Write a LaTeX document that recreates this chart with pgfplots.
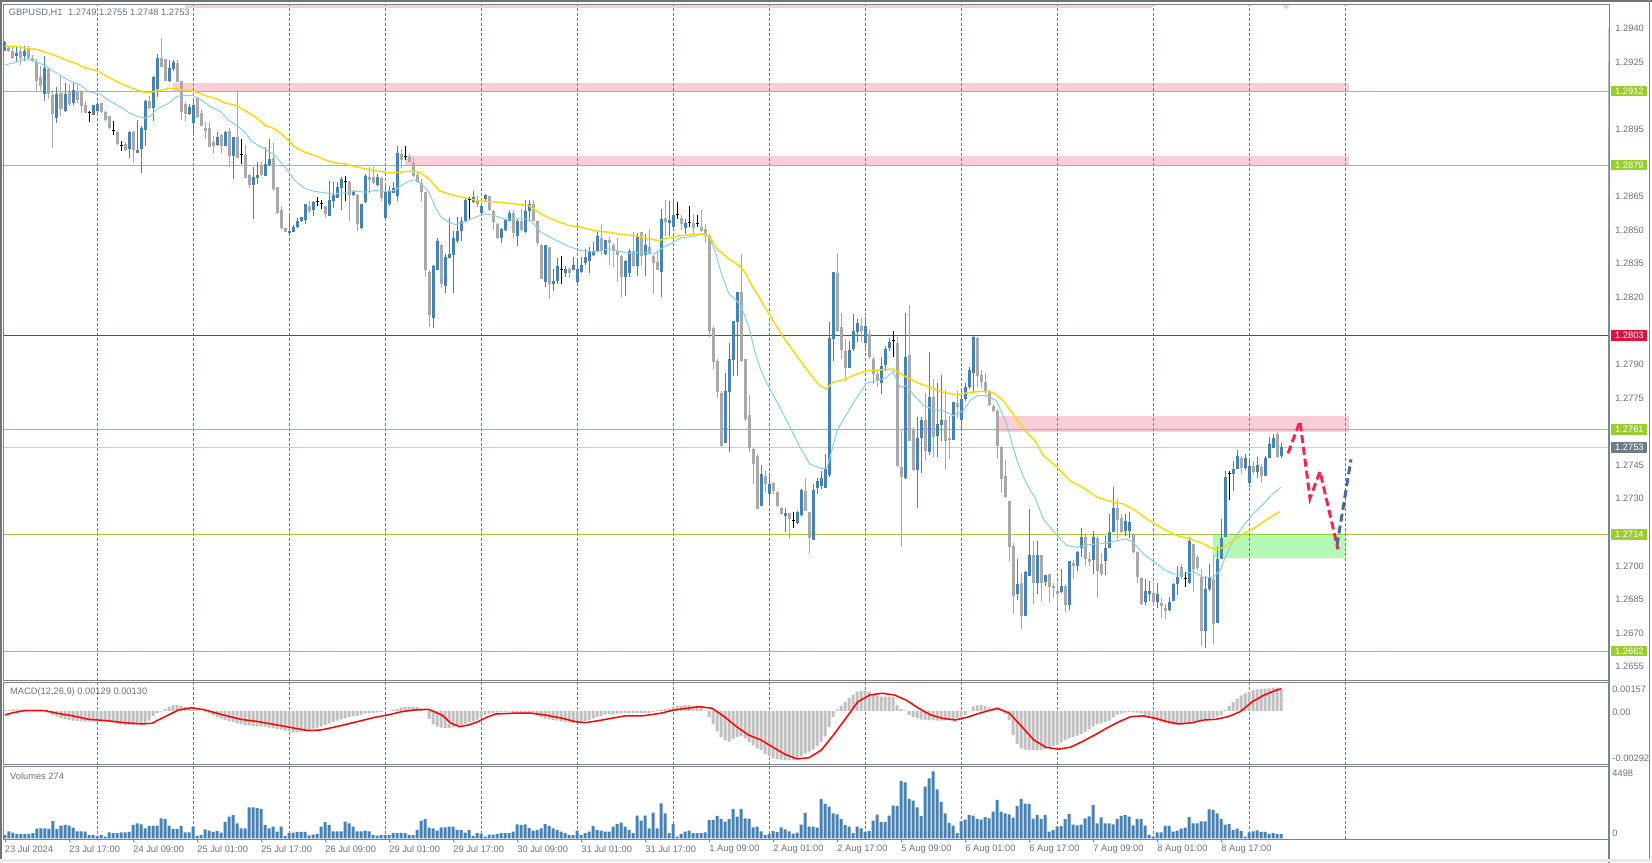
\documentclass[border=0pt]{standalone}
\usepackage{fontspec}
\setmainfont{Liberation Sans}
\usepackage{pgfplots}
\usepackage{pgfplotstable}
\pgfplotsset{compat=1.18}

\definecolor{bull}{RGB}{70,130,180}
\definecolor{bear}{RGB}{169,169,169}
\definecolor{lvlgreen}{RGB}{154,205,50}
\definecolor{lvlred}{RGB}{220,20,60}
\definecolor{pinkbox}{RGB}{250,205,215}
\definecolor{greenbox}{RGB}{180,250,180}
\definecolor{maFast}{RGB}{135,206,235}
\definecolor{maSlow}{RGB}{255,215,0}
\definecolor{sep}{RGB}{112,128,144}
\definecolor{frame}{RGB}{120,132,145}
\definecolor{labtxt}{RGB}{105,115,130}
\definecolor{zz}{RGB}{240,40,90}
\definecolor{zb}{RGB}{75,105,160}
\definecolor{histc}{RGB}{192,192,192}
\definecolor{curtag}{RGB}{110,123,139}
\definecolor{curline}{RGB}{205,205,205}
\newcommand\lab{\fontsize{4.65}{5.5}\selectfont}

\pgfplotstableread{
i o h l c v m
0 1.29298 1.29343 1.29297 1.29339 220 0.00006
1 1.29312 1.29321 1.29297 1.29300 470 0.00007
2 1.29301 1.29321 1.29264 1.29267 380 0.00009
3 1.29276 1.29321 1.29252 1.29288 290 0.00010
4 1.29301 1.29321 1.29237 1.29267 290 0.00010
5 1.29276 1.29321 1.29257 1.29301 290 0.00010
6 1.29312 1.29321 1.29264 1.29267 290 0.00010
7 1.29271 1.29282 1.29252 1.29255 340 0.00010
8 1.29252 1.29264 1.29118 1.29166 650 0.00009
9 1.29182 1.29234 1.29127 1.29145 670 0.00009
10 1.29106 1.29279 1.29075 1.29222 670 -0.00003
11 1.29219 1.29222 1.29085 1.29108 630 -0.00013
12 1.29105 1.29115 1.28865 1.29017 1160 -0.00023
13 1.29003 1.29137 1.28976 1.29108 630 -0.00033
14 1.29111 1.29190 1.29011 1.29043 850 -0.00041
15 1.29030 1.29157 1.29026 1.29108 900 -0.00049
16 1.29121 1.29152 1.29055 1.29066 850 -0.00053
17 1.29067 1.29160 1.29061 1.29127 720 -0.00056
18 1.29122 1.29157 1.29067 1.29082 470 -0.00059
19 1.29121 1.29127 1.29023 1.29055 470 -0.00061
20 1.29058 1.29078 1.29023 1.29026 450 -0.00063
21 1.29023 1.29033 1.28984 1.29023 220 -0.00063
22 1.29015 1.29061 1.29015 1.29058 220 -0.00063
23 1.29033 1.29073 1.29023 1.29061 160 -0.00063
24 1.29067 1.29070 1.29023 1.29029 220 -0.00063
25 1.29029 1.29032 1.28988 1.28993 110 -0.00064
26 1.29008 1.29011 1.28951 1.28954 400 -0.00066
27 1.28945 1.28987 1.28924 1.28945 340 -0.00069
28 1.28939 1.28942 1.28877 1.28883 340 -0.00074
29 1.28877 1.28899 1.28854 1.28877 400 -0.00078
30 1.28887 1.28895 1.28853 1.28857 400 -0.00081
31 1.28862 1.28942 1.28824 1.28939 430 -0.00084
32 1.28939 1.28942 1.28802 1.28857 900 -0.00084
33 1.28842 1.28993 1.28842 1.28859 1010 -0.00084
34 1.28862 1.28966 1.28753 1.28957 940 -0.00079
35 1.28948 1.29079 1.28874 1.29078 670 -0.00074
36 1.29078 1.29100 1.29040 1.29043 830 -0.00056
37 1.29043 1.29190 1.28988 1.29182 830 -0.00029
38 1.29130 1.29286 1.29093 1.29271 850 -0.00013
39 1.29271 1.29359 1.29227 1.29227 1340 -0.00004
40 1.29264 1.29266 1.29164 1.29164 1300 0.00012
41 1.29164 1.29261 1.29164 1.29222 850 0.00025
42 1.29219 1.29261 1.29212 1.29249 630 0.00034
43 1.29249 1.29257 1.29163 1.29164 630 0.00034
44 1.29167 1.29167 1.28991 1.29026 830 0.00031
45 1.29063 1.29073 1.28988 1.29018 400 0.00023
46 1.29018 1.29063 1.29014 1.29048 400 0.00016
47 1.28976 1.29088 1.28933 1.29060 780 0.00012
48 1.29088 1.29093 1.28999 1.29003 160 0.00007
49 1.29023 1.29040 1.28962 1.28963 220 0.00001
50 1.28959 1.28981 1.28906 1.28944 600 -0.00004
51 1.28959 1.28981 1.28872 1.28874 520 -0.00015
52 1.28894 1.28921 1.28844 1.28877 430 -0.00026
53 1.28880 1.28939 1.28877 1.28917 490 -0.00035
54 1.28924 1.28929 1.28844 1.28877 380 -0.00045
55 1.28874 1.28944 1.28874 1.28939 1100 -0.00054
56 1.28942 1.28954 1.28780 1.28829 1460 -0.00060
57 1.28829 1.28917 1.28728 1.28917 1550 -0.00066
58 1.28917 1.29127 1.28824 1.28824 1010 -0.00073
59 1.28839 1.28906 1.28795 1.28839 670 -0.00076
60 1.28835 1.28883 1.28734 1.28734 670 -0.00082
61 1.28747 1.28750 1.28687 1.28702 2080 -0.00086
62 1.28702 1.28780 1.28552 1.28738 2080 -0.00088
63 1.28735 1.28805 1.28705 1.28747 2020 -0.00091
64 1.28792 1.28802 1.28743 1.28745 1970 -0.00092
65 1.28743 1.28870 1.28743 1.28795 900 -0.00092
66 1.28792 1.28907 1.28788 1.28818 670 -0.00097
67 1.28821 1.28888 1.28676 1.28684 780 -0.00101
68 1.28691 1.28691 1.28572 1.28575 450 -0.00105
69 1.28587 1.28609 1.28502 1.28509 780 -0.00110
70 1.28509 1.28512 1.28490 1.28493 160 -0.00115
71 1.28487 1.28569 1.28475 1.28497 340 -0.00120
72 1.28494 1.28520 1.28490 1.28515 380 -0.00125
73 1.28512 1.28554 1.28509 1.28539 430 -0.00126
74 1.28539 1.28560 1.28536 1.28557 430 -0.00123
75 1.28545 1.28616 1.28527 1.28616 430 -0.00118
76 1.28609 1.28631 1.28579 1.28584 200 -0.00111
77 1.28591 1.28631 1.28564 1.28627 250 -0.00104
78 1.28627 1.28649 1.28606 1.28627 290 -0.00097
79 1.28618 1.28634 1.28594 1.28618 780 -0.00092
80 1.28609 1.28609 1.28554 1.28572 1080 -0.00082
81 1.28564 1.28718 1.28564 1.28634 900 -0.00074
82 1.28631 1.28713 1.28599 1.28658 470 -0.00066
83 1.28643 1.28713 1.28643 1.28691 470 -0.00057
84 1.28688 1.28739 1.28591 1.28728 470 -0.00049
85 1.28716 1.28739 1.28631 1.28716 1120 -0.00041
86 1.28716 1.28721 1.28542 1.28654 1010 -0.00035
87 1.28658 1.28679 1.28654 1.28676 780 -0.00032
88 1.28658 1.28661 1.28494 1.28527 470 -0.00029
89 1.28509 1.28619 1.28505 1.28619 470 -0.00022
90 1.28624 1.28751 1.28619 1.28740 520 -0.00014
91 1.28739 1.28780 1.28664 1.28725 470 -0.00012
92 1.28739 1.28780 1.28706 1.28709 220 -0.00011
93 1.28703 1.28751 1.28698 1.28739 180 -0.00008
94 1.28733 1.28736 1.28631 1.28646 220 -0.00005
95 1.28552 1.28706 1.28549 1.28669 220 -0.00002
96 1.28616 1.28698 1.28609 1.28676 220 0.00002
97 1.28664 1.28713 1.28664 1.28688 360 0.00006
98 1.28654 1.28877 1.28631 1.28844 360 0.00012
99 1.28840 1.28862 1.28777 1.28813 360 0.00019
100 1.28828 1.28877 1.28813 1.28828 340 0.00022
101 1.28828 1.28840 1.28800 1.28803 220 0.00025
102 1.28798 1.28825 1.28740 1.28743 220 0.00024
103 1.28748 1.28766 1.28710 1.28713 560 0.00022
104 1.28712 1.28728 1.28631 1.28673 1190 0.00015
105 1.28669 1.28669 1.28293 1.28323 1280 0.00002
106 1.28314 1.28321 1.28068 1.28122 720 -0.00047
107 1.28110 1.28345 1.28062 1.28338 670 -0.00079
108 1.28323 1.28467 1.28323 1.28450 520 -0.00092
109 1.28435 1.28438 1.28244 1.28259 740 -0.00097
110 1.28251 1.28393 1.28220 1.28378 740 -0.00101
111 1.28375 1.28554 1.28375 1.28396 780 -0.00100
112 1.28390 1.28497 1.28220 1.28467 780 -0.00096
113 1.28453 1.28557 1.28445 1.28497 560 -0.00091
114 1.28494 1.28557 1.28453 1.28539 560 -0.00084
115 1.28539 1.28643 1.28539 1.28636 380 -0.00076
116 1.28634 1.28649 1.28549 1.28634 560 -0.00067
117 1.28624 1.28676 1.28619 1.28649 160 -0.00062
118 1.28634 1.28654 1.28605 1.28614 340 -0.00050
119 1.28575 1.28609 1.28572 1.28609 290 -0.00035
120 1.28637 1.28661 1.28630 1.28658 110 -0.00025
121 1.28649 1.28654 1.28587 1.28590 250 -0.00016
122 1.28587 1.28590 1.28500 1.28535 250 -0.00012
123 1.28527 1.28530 1.28460 1.28465 290 -0.00009
124 1.28465 1.28509 1.28445 1.28505 340 -0.00006
125 1.28500 1.28549 1.28497 1.28545 340 -0.00005
126 1.28542 1.28590 1.28542 1.28578 340 -0.00004
127 1.28578 1.28590 1.28465 1.28485 450 -0.00007
128 1.28472 1.28550 1.28430 1.28539 940 -0.00010
129 1.28539 1.28594 1.28497 1.28502 900 -0.00012
130 1.28493 1.28635 1.28490 1.28587 940 -0.00013
131 1.28584 1.28635 1.28542 1.28617 690 -0.00015
132 1.28617 1.28635 1.28539 1.28542 520 -0.00017
133 1.28539 1.28542 1.28430 1.28442 560 -0.00026
134 1.28435 1.28438 1.28280 1.28283 670 -0.00038
135 1.28270 1.28435 1.28244 1.28435 960 -0.00045
136 1.28426 1.28426 1.28191 1.28259 830 -0.00049
137 1.28259 1.28326 1.28229 1.28274 670 -0.00053
138 1.28271 1.28375 1.28259 1.28337 560 -0.00057
139 1.28325 1.28386 1.28262 1.28325 450 -0.00062
140 1.28311 1.28341 1.28289 1.28329 340 -0.00065
141 1.28326 1.28337 1.28286 1.28311 220 -0.00067
142 1.28322 1.28378 1.28322 1.28344 220 -0.00070
143 1.28271 1.28375 1.28252 1.28326 520 -0.00071
144 1.28311 1.28378 1.28307 1.28346 220 -0.00066
145 1.28352 1.28416 1.28346 1.28378 340 -0.00058
146 1.28363 1.28423 1.28311 1.28408 450 -0.00053
147 1.28390 1.28445 1.28386 1.28408 830 -0.00044
148 1.28408 1.28490 1.28405 1.28475 560 -0.00034
149 1.28465 1.28527 1.28390 1.28405 520 -0.00028
150 1.28393 1.28456 1.28390 1.28456 450 -0.00021
151 1.28457 1.28468 1.28346 1.28444 450 -0.00019
152 1.28435 1.28445 1.28337 1.28408 780 -0.00018
153 1.28408 1.28465 1.28267 1.28390 960 -0.00016
154 1.28386 1.28390 1.28203 1.28292 1050 -0.00014
155 1.28292 1.28366 1.28205 1.28363 780 -0.00013
156 1.28311 1.28416 1.28292 1.28408 560 -0.00013
157 1.28405 1.28490 1.28337 1.28341 340 -0.00013
158 1.28341 1.28486 1.28296 1.28475 1520 -0.00013
159 1.28490 1.28490 1.28341 1.28386 1190 -0.00013
160 1.28390 1.28483 1.28296 1.28435 1520 -0.00012
161 1.28426 1.28505 1.28390 1.28393 670 -0.00011
162 1.28386 1.28389 1.28215 1.28352 1720 -0.00005
163 1.28356 1.28408 1.28322 1.28323 670 0.00003
164 1.28311 1.28594 1.28203 1.28547 2350 0.00008
165 1.28554 1.28636 1.28475 1.28535 1680 0.00013
166 1.28532 1.28632 1.28475 1.28547 340 0.00016
167 1.28512 1.28635 1.28512 1.28569 960 0.00021
168 1.28568 1.28624 1.28550 1.28568 110 0.00029
169 1.28554 1.28569 1.28502 1.28527 290 0.00032
170 1.28512 1.28550 1.28483 1.28530 450 0.00035
171 1.28535 1.28609 1.28512 1.28535 520 0.00035
172 1.28530 1.28575 1.28480 1.28512 340 0.00032
173 1.28527 1.28569 1.28512 1.28527 340 0.00029
174 1.28512 1.28587 1.28490 1.28495 340 0.00021
175 1.28505 1.28527 1.28445 1.28483 400 0.00002
176 1.28475 1.28480 1.28024 1.28051 1230 -0.00035
177 1.28065 1.28073 1.27879 1.27913 1230 -0.00079
178 1.27916 1.27924 1.27752 1.27779 1500 -0.00120
179 1.27775 1.27780 1.27532 1.27537 1280 -0.00155
180 1.27551 1.27864 1.27551 1.27782 1120 -0.00173
181 1.27779 1.27998 1.27511 1.27924 1280 -0.00180
182 1.27921 1.28095 1.27849 1.28095 1970 -0.00164
183 1.28092 1.28225 1.27849 1.28225 1460 -0.00152
184 1.28225 1.28393 1.27913 1.27913 1970 -0.00148
185 1.27924 1.27924 1.27648 1.27656 1340 -0.00161
186 1.27674 1.27765 1.27511 1.27529 1280 -0.00182
187 1.27522 1.27526 1.27368 1.27458 740 -0.00202
188 1.27492 1.27499 1.27256 1.27256 780 -0.00220
189 1.27268 1.27451 1.27268 1.27409 470 -0.00230
190 1.27402 1.27425 1.27328 1.27368 220 -0.00252
191 1.27320 1.27417 1.27268 1.27368 290 -0.00267
192 1.27373 1.27373 1.27321 1.27336 490 -0.00277
193 1.27331 1.27336 1.27264 1.27269 430 -0.00281
194 1.27261 1.27264 1.27229 1.27232 740 -0.00285
195 1.27221 1.27261 1.27150 1.27235 600 -0.00287
196 1.27235 1.27235 1.27120 1.27209 470 -0.00290
197 1.27202 1.27243 1.27169 1.27202 310 -0.00290
198 1.27190 1.27244 1.27188 1.27242 380 -0.00283
199 1.27229 1.27345 1.27226 1.27340 920 -0.00267
200 1.27333 1.27392 1.27244 1.27246 1700 -0.00250
201 1.27242 1.27242 1.27060 1.27127 780 -0.00239
202 1.27118 1.27366 1.27118 1.27339 780 -0.00226
203 1.27351 1.27395 1.27321 1.27381 720 -0.00205
204 1.27358 1.27425 1.27343 1.27395 2640 -0.00182
205 1.27351 1.27500 1.27351 1.27440 2310 -0.00149
206 1.27406 1.28088 1.27398 1.28018 2130 -0.00094
207 1.28012 1.28315 1.27914 1.28315 1680 -0.00035
208 1.28307 1.28397 1.28044 1.28051 1610 0.00009
209 1.28066 1.28133 1.27924 1.27965 1280 0.00032
210 1.27959 1.28014 1.27830 1.27884 900 0.00053
211 1.27884 1.28006 1.27884 1.27965 780 0.00077
212 1.27969 1.28128 1.27962 1.28048 340 0.00096
213 1.28044 1.28103 1.28002 1.28084 780 0.00113
214 1.28073 1.28108 1.28002 1.28051 670 0.00118
215 1.27996 1.28114 1.27974 1.28073 430 0.00117
216 1.28036 1.28058 1.27924 1.27932 490 0.00113
217 1.27924 1.27932 1.27813 1.27857 1190 0.00100
218 1.27857 1.27869 1.27801 1.27832 1590 0.00090
219 1.27820 1.27932 1.27768 1.27895 1080 0.00084
220 1.27899 1.27984 1.27872 1.27969 1100 0.00084
221 1.27974 1.28021 1.27962 1.27999 1520 0.00084
222 1.28006 1.28048 1.27932 1.28006 2200 0.00082
223 1.27999 1.28024 1.27443 1.27448 2170 0.00035
224 1.27443 1.27604 1.27085 1.27398 3850 0.00012
225 1.27391 1.28128 1.27391 1.27935 3760 0.00003
226 1.27944 1.28167 1.27559 1.27559 2640 -0.00023
227 1.27614 1.27622 1.27425 1.27431 2530 -0.00035
228 1.27430 1.27664 1.27258 1.27574 2080 -0.00043
229 1.27571 1.27664 1.27418 1.27652 1500 -0.00050
230 1.27652 1.27775 1.27470 1.27512 3470 -0.00053
231 1.27510 1.27957 1.27497 1.27757 4030 -0.00053
232 1.27757 1.27835 1.27485 1.27579 4498 -0.00055
233 1.27579 1.27816 1.27489 1.27634 3290 -0.00057
234 1.27631 1.27854 1.27559 1.27652 2440 -0.00057
235 1.27652 1.27786 1.27430 1.27559 1680 -0.00054
236 1.27574 1.27671 1.27480 1.27562 1030 -0.00053
237 1.27562 1.27735 1.27562 1.27735 850 -0.00049
238 1.27726 1.27783 1.27664 1.27711 340 -0.00041
239 1.27652 1.27783 1.27607 1.27746 1140 -0.00033
240 1.27746 1.27816 1.27738 1.27798 1250 -0.00023
241 1.27802 1.27887 1.27790 1.27877 1570 -0.00003
242 1.27862 1.28029 1.27775 1.28024 1520 0.00025
243 1.28018 1.28024 1.27798 1.27850 1280 0.00033
244 1.27854 1.27875 1.27798 1.27820 1250 0.00034
245 1.27820 1.27865 1.27768 1.27775 1430 0.00029
246 1.27775 1.27786 1.27716 1.27720 1340 0.00021
247 1.27716 1.27723 1.27690 1.27693 1790 0.00013
248 1.27693 1.27701 1.27477 1.27537 2580 0.00010
249 1.27534 1.27537 1.27328 1.27391 1790 0.00007
250 1.27401 1.27476 1.27306 1.27310 1680 -0.00018
251 1.27291 1.27291 1.27023 1.27087 1610 -0.00053
252 1.27090 1.27105 1.26787 1.26866 1390 -0.00141
253 1.26874 1.27033 1.26847 1.26922 2170 -0.00193
254 1.26926 1.26971 1.26718 1.26777 2640 -0.00219
255 1.26777 1.26978 1.26777 1.26971 2330 -0.00226
256 1.26956 1.27256 1.26956 1.27050 2310 -0.00229
257 1.27049 1.27113 1.26830 1.26927 1320 -0.00229
258 1.26927 1.27113 1.26878 1.27049 1570 -0.00229
259 1.27049 1.27049 1.26845 1.26927 1300 -0.00227
260 1.26927 1.26961 1.26912 1.26961 1570 -0.00223
261 1.26967 1.26967 1.26838 1.26905 450 -0.00216
262 1.26912 1.26927 1.26857 1.26902 560 -0.00208
263 1.26890 1.26935 1.26815 1.26878 780 -0.00199
264 1.26887 1.26987 1.26882 1.26912 830 -0.00185
265 1.26912 1.26920 1.26796 1.26827 1280 -0.00173
266 1.26827 1.27024 1.26805 1.27024 1640 -0.00161
267 1.27012 1.27027 1.26942 1.26998 920 -0.00152
268 1.26998 1.27066 1.26979 1.27064 870 -0.00144
269 1.27080 1.27170 1.27039 1.27131 920 -0.00135
270 1.27131 1.27146 1.27001 1.27031 1340 -0.00123
271 1.27034 1.27061 1.27001 1.27021 1480 -0.00108
272 1.27028 1.27155 1.26967 1.27131 2220 -0.00092
273 1.27124 1.27137 1.26860 1.26979 1010 -0.00079
274 1.27009 1.27061 1.26957 1.26967 1410 -0.00073
275 1.27021 1.27136 1.26961 1.27083 1010 -0.00064
276 1.27080 1.27232 1.27080 1.27153 1010 -0.00056
277 1.27153 1.27355 1.27150 1.27259 940 -0.00038
278 1.27259 1.27299 1.27121 1.27206 1280 -0.00021
279 1.27213 1.27232 1.27150 1.27153 1500 -0.00015
280 1.27158 1.27232 1.27136 1.27203 1550 -0.00010
281 1.27158 1.27240 1.27125 1.27195 1460 -0.00007
282 1.27143 1.27150 1.27061 1.27064 870 -0.00006
283 1.27064 1.27069 1.26927 1.26949 1280 -0.00010
284 1.26945 1.26949 1.26826 1.26830 1280 -0.00016
285 1.26838 1.26942 1.26827 1.26890 850 -0.00029
286 1.26875 1.26935 1.26845 1.26890 220 -0.00043
287 1.26882 1.26927 1.26827 1.26838 110 -0.00050
288 1.26838 1.26927 1.26815 1.26878 400 -0.00056
289 1.26833 1.26860 1.26771 1.26823 400 -0.00063
290 1.26811 1.26833 1.26763 1.26800 830 -0.00072
291 1.26803 1.26860 1.26800 1.26841 830 -0.00079
292 1.26845 1.26923 1.26845 1.26920 450 -0.00082
293 1.26920 1.27001 1.26872 1.26952 520 -0.00082
294 1.26994 1.27009 1.26942 1.26952 650 -0.00078
295 1.26942 1.26972 1.26908 1.26942 720 -0.00072
296 1.26927 1.27131 1.26922 1.27113 1430 -0.00064
297 1.27101 1.27101 1.26887 1.26987 1010 -0.00061
298 1.27042 1.27051 1.26985 1.26994 1010 -0.00059
299 1.26949 1.26987 1.26644 1.26711 1140 -0.00054
300 1.26711 1.26957 1.26636 1.26897 1140 -0.00052
301 1.26897 1.27009 1.26890 1.26949 1950 -0.00049
302 1.26945 1.27051 1.26651 1.26741 1900 -0.00041
303 1.26748 1.27083 1.26748 1.27031 1680 -0.00032
304 1.27031 1.27210 1.27031 1.27128 1280 -0.00023
305 1.27128 1.27426 1.27128 1.27399 920 0.00006
306 1.27414 1.27426 1.27296 1.27414 960 0.00029
307 1.27411 1.27471 1.27337 1.27434 560 0.00053
308 1.27434 1.27516 1.27434 1.27493 650 0.00073
309 1.27483 1.27493 1.27411 1.27438 500 0.00091
310 1.27438 1.27501 1.27429 1.27483 110 0.00104
311 1.27369 1.27474 1.27355 1.27448 400 0.00114
312 1.27448 1.27471 1.27414 1.27419 470 0.00122
313 1.27422 1.27486 1.27393 1.27451 540 0.00127
314 1.27444 1.27456 1.27369 1.27404 430 0.00130
315 1.27404 1.27493 1.27404 1.27483 430 0.00131
316 1.27483 1.27578 1.27483 1.27545 290 0.00133
317 1.27530 1.27590 1.27527 1.27575 340 0.00135
318 1.27590 1.27597 1.27481 1.27489 290 0.00137
319 1.27490 1.27550 1.27480 1.27530 274 0.00129
}\bars

\pgfplotstableread{
x y
0 1.29237
2 1.29245
5 1.29264
7 1.29257
10 1.29234
11.5 1.29215
14 1.29190
16 1.29167
19 1.29145
21 1.29118
24 1.29105
26 1.29078
29 1.29048
31 1.29023
33 1.29008
35 1.28999
36.5 1.29011
38 1.29040
40 1.29058
41 1.29067
43 1.29097
45 1.29100
47 1.29100
49 1.29082
51 1.29055
54 1.29026
56 1.28988
58 1.28966
60 1.28936
61.5 1.28899
63 1.28880
65 1.28862
67.5 1.28833
70 1.28780
72.5 1.28721
75 1.28684
77.5 1.28672
80 1.28666
82.5 1.28661
85 1.28667
87.5 1.28673
90 1.28669
92.5 1.28676
95 1.28673
97.5 1.28676
99 1.28698
101 1.28718
102.5 1.28724
104 1.28706
106 1.28669
107.5 1.28605
109 1.28557
111 1.28535
112.5 1.28524
115 1.28535
117.5 1.28557
120 1.28572
122.5 1.28564
125 1.28549
127.5 1.28550
131 1.28550
134 1.28490
137.5 1.28456
141 1.28426
144 1.28408
147.5 1.28401
151 1.28416
153.5 1.28405
156 1.28396
159 1.28401
162.5 1.28396
164 1.28416
167 1.28445
169 1.28465
172 1.28471
174 1.28483
176 1.28468
177.5 1.28408
179 1.28311
181 1.28214
182.5 1.28192
184 1.28162
186 1.28065
187.5 1.27954
189 1.27872
191 1.27797
193.5 1.27716
196.25 1.27619
198.75 1.27530
201.25 1.27455
203.75 1.27437
205.4 1.27433
206.25 1.27485
208 1.27604
210.4 1.27678
213 1.27753
215.4 1.27816
218 1.27828
220.4 1.27842
222 1.27869
223.75 1.27798
225.4 1.27805
227 1.27768
229.6 1.27716
232 1.27701
234.6 1.27693
237 1.27671
239.6 1.27693
241.25 1.27738
243 1.27760
245.4 1.27760
247.9 1.27738
250.4 1.27634
253 1.27470
255.4 1.27366
257.5 1.27306
259.6 1.27210
263 1.27136
265.4 1.27091
268 1.27083
270.4 1.27095
273 1.27098
275.4 1.27101
278 1.27113
280.4 1.27121
282 1.27106
284.6 1.27054
287 1.27021
289.6 1.26987
292 1.26964
294.6 1.26961
297 1.26976
299.6 1.26949
302 1.26949
303.75 1.26979
305.4 1.27054
307 1.27113
309.6 1.27180
312 1.27232
314.6 1.27277
317 1.27322
319 1.27352
}\fastma

\pgfplotstableread{
x y
0 1.29321
3 1.29319
5 1.29312
8 1.29306
10 1.29294
13 1.29276
15 1.29261
18 1.29242
20 1.29224
23 1.29212
25 1.29190
28 1.29163
30 1.29145
33 1.29125
35 1.29115
36.5 1.29115
38 1.29121
40 1.29127
41 1.29133
43 1.29130
45 1.29127
48 1.29115
50 1.29100
53 1.29085
55 1.29067
58 1.29055
60 1.29033
63 1.29000
65 1.28967
67.5 1.28952
70 1.28915
72.5 1.28870
75 1.28847
77.5 1.28833
80 1.28813
82.5 1.28800
85 1.28795
87.5 1.28783
90 1.28773
92.5 1.28765
95 1.28758
97.5 1.28755
100 1.28761
102.5 1.28763
104 1.28754
106 1.28728
108.5 1.28676
111 1.28661
113.5 1.28649
116 1.28639
118.5 1.28631
121 1.28627
123.5 1.28624
126 1.28619
128.5 1.28614
131 1.28609
134 1.28572
137.5 1.28542
141 1.28520
144 1.28512
147.5 1.28497
151 1.28490
154 1.28480
157.5 1.28475
161 1.28460
163.5 1.28453
166 1.28465
169 1.28475
172.5 1.28480
175 1.28483
176.5 1.28460
178 1.28416
181 1.28371
183.5 1.28341
185 1.28311
186.5 1.28259
189 1.28185
191 1.28125
194.6 1.28021
197.9 1.27939
201.25 1.27857
203.75 1.27805
205.4 1.27790
207 1.27820
209.6 1.27831
213 1.27857
215.4 1.27872
218.75 1.27875
222 1.27880
224.6 1.27850
227.9 1.27820
231.25 1.27798
234.6 1.27775
237.9 1.27765
241.25 1.27775
244.6 1.27780
247 1.27775
249.6 1.27738
252 1.27678
254.6 1.27612
257.5 1.27559
259.6 1.27493
263 1.27441
266.25 1.27381
269.6 1.27349
273 1.27307
276.25 1.27289
279.6 1.27277
282 1.27255
285.4 1.27210
289.6 1.27165
292.9 1.27136
296.25 1.27121
298.75 1.27106
301.25 1.27083
302.9 1.27073
304.6 1.27083
307 1.27113
309.6 1.27143
312.9 1.27176
316.25 1.27217
318.75 1.27243
}\slowma

\pgfplotstableread{
x y
0 -0.00023
2 -0.00010
5 0.00002
10 0.00002
13 -0.00013
17 -0.00029
21 -0.00049
25.5 -0.00057
30 -0.00069
34.5 -0.00076
36.7 -0.00072
40 -0.00033
43.4 0.00006
46.7 0.00019
50 0.00006
54.5 -0.00023
59 -0.00049
63.5 -0.00063
68 -0.00082
72.4 -0.00101
75.8 -0.00115
79.1 -0.00111
83.6 -0.00088
88 -0.00063
92.5 -0.00037
95.8 -0.00023
99.2 -0.00004
102.5 0.00006
105.9 0.00010
109.2 -0.00023
111.5 -0.00072
113.7 -0.00092
116 -0.00082
118.2 -0.00063
120.4 -0.00037
122.6 -0.00018
127 -0.00013
131.5 -0.00013
134.9 -0.00023
139.4 -0.00043
142.7 -0.00063
145 -0.00069
148.3 -0.00057
151.6 -0.00043
155 -0.00029
159.5 -0.00028
164 -0.00013
167.3 0.00006
170.6 0.00016
173.6 0.00025
176.8 0.00016
179.8 -0.00033
182.9 -0.00092
185.9 -0.00141
189 -0.00170
192 -0.00213
195 -0.00254
198 -0.00281
201 -0.00274
204.1 -0.00229
207.1 -0.00141
210.2 -0.00043
213.2 0.00054
216.2 0.00094
219.3 0.00104
222.3 0.00094
225.3 0.00064
228.4 0.00016
231.4 -0.00023
234.4 -0.00043
237.5 -0.00053
240.5 -0.00037
243.6 -0.00013
246.6 0.00006
248.1 0.00016
251.1 -0.00013
254.2 -0.00092
257.2 -0.00170
260.2 -0.00213
263.3 -0.00224
266.3 -0.00213
269.3 -0.00180
272.4 -0.00141
275.4 -0.00101
278.5 -0.00063
281.5 -0.00033
284.5 -0.00029
287.6 -0.00043
290.6 -0.00063
293.6 -0.00076
296.7 -0.00069
299.7 -0.00053
302.7 -0.00049
305.8 -0.00033
308.8 -0.00004
311.8 0.00054
314.8 0.00094
317.9 0.00123
319 0.00130
}\signal

\pgfplotsset{
  panel/.style={scale only axis, anchor=north west, width=802.5pt,
    xmin=-0.25, xmax=401, xtick=\empty, ytick=\empty,
    axis line style={draw=frame, line width=0.5pt}, clip=false},
  wick/.style={only marks, mark=*, mark size=0pt, mark options={draw opacity=0, fill opacity=0},
    error bars/y dir=both, error bars/y explicit, error bars/error mark=none},
}
\tikzset{
  sepline/.style={draw=sep, line width=0.5pt, dash pattern=on 1.5pt off 1pt},
  lbl/.style={anchor=west, inner sep=0pt, font=\lab, text=labtxt},
  tagn/.style={anchor=west, inner sep=0pt, font=\lab, text=white, minimum width=18pt, minimum height=5.3pt},
}

\begin{document}
\begin{tikzpicture}
\useasboundingbox (0,0) rectangle (826pt,-431pt);
\fill[white] (0,0) rectangle (826pt,-431pt);

% ---------------- main price panel
\begin{axis}[panel, at={(2pt,-2.25pt)}, height=338pt, ymin=1.26487, ymax=1.29505]
\fill[pinkbox] (axis cs:45,1.29489) rectangle (axis cs:286.75,1.29505);
\fill[pinkbox] (axis cs:42,1.2912) rectangle (axis cs:336,1.29155);
\fill[pinkbox] (axis cs:100,1.2879) rectangle (axis cs:336,1.28829);
\fill[pinkbox] (axis cs:248,1.2760) rectangle (axis cs:336,1.27668);
\fill[greenbox] (axis cs:302,1.27034) rectangle (axis cs:335,1.27140);
\pgfplotsinvokeforeach{23,47,71,95,119,143,167,191,215,239,263,287,311,335}{
  \draw[sepline] (axis cs:#1,1.26487) -- (axis cs:#1,1.29505);
}
\pgfplotsinvokeforeach{1.2912,1.2879,1.2761,1.2714,1.2662}{
  \draw[lvlgreen, line width=0.5pt] (axis cs:-0.25,#1) -- (axis cs:401,#1);
}
\draw[lvlred, line width=0.5pt] (axis cs:-0.25,1.2803) -- (axis cs:401,1.2803);
\draw[curline, line width=0.5pt] (axis cs:-0.25,1.2753) -- (axis cs:401,1.2753);

% candles: bull
\addplot[wick, error bars/error bar style={bull, line width=0.5pt}, restrict expr to domain={\thisrow{c}-\thisrow{o}}{0.000005:1}]
  table[x=i, y expr=(\thisrow{h}+\thisrow{l})/2, y error expr=(\thisrow{h}-\thisrow{l})/2] {\bars};
\addplot[wick, error bars/error bar style={bull, line width=1.5pt}, restrict expr to domain={\thisrow{c}-\thisrow{o}}{0.000005:1}]
  table[x=i, y expr=(\thisrow{o}+\thisrow{c})/2, y error expr=(\thisrow{c}-\thisrow{o})/2] {\bars};
% bear
\addplot[wick, error bars/error bar style={bear, line width=0.5pt}, restrict expr to domain={\thisrow{c}-\thisrow{o}}{-1:-0.000005}]
  table[x=i, y expr=(\thisrow{h}+\thisrow{l})/2, y error expr=(\thisrow{h}-\thisrow{l})/2] {\bars};
\addplot[wick, error bars/error bar style={bear, line width=1.5pt}, restrict expr to domain={\thisrow{c}-\thisrow{o}}{-1:-0.000005}]
  table[x=i, y expr=(\thisrow{o}+\thisrow{c})/2, y error expr=(\thisrow{o}-\thisrow{c})/2] {\bars};
% doji
\addplot[wick, error bars/error bar style={black, line width=0.5pt}, restrict expr to domain={\thisrow{c}-\thisrow{o}}{-0.000004:0.000004}]
  table[x=i, y expr=(\thisrow{h}+\thisrow{l})/2, y error expr=(\thisrow{h}-\thisrow{l})/2] {\bars};
\addplot[only marks, mark=-, mark size=0.75pt, black, mark options={line width=0.5pt}, restrict expr to domain={\thisrow{c}-\thisrow{o}}{-0.000004:0.000004}]
  table[x=i, y=c] {\bars};

% moving averages
\addplot[maFast, line width=0.5pt, mark=none] table[x=x, y=y] {\fastma};
\addplot[maSlow, line width=0.7pt, mark=none] table[x=x, y=y] {\slowma};

% forecast zigzag
\addplot[zz, line width=1.5pt, mark=none, dash pattern=on 4pt off 2pt] coordinates {(320.75,1.27503) (323.75,1.27646) (326.25,1.27302) (328.75,1.27422) (333.25,1.27074)};
\addplot[zb, line width=1.5pt, mark=none, dash pattern=on 4pt off 2pt] coordinates {(333,1.27092) (336.5,1.27476)};

% right price scale
\pgfplotsinvokeforeach{1.2940,1.2925,1.2895,1.2865,1.2850,1.2835,1.2820,1.2790,1.2775,1.2745,1.2730,1.2700,1.2685,1.2670,1.2655}{
  \draw[frame, line width=0.5pt] (axis cs:401,#1) -- ++(1.5pt,0);
  \node[lbl] at ([xshift=3pt]axis cs:401,#1) {#1};
}
\node[tagn, fill=lvlgreen] at ([xshift=1pt]axis cs:401,1.2912) {1.2912};
\node[tagn, fill=lvlgreen] at ([xshift=1pt]axis cs:401,1.2879) {1.2879};
\node[tagn, fill=lvlred] at ([xshift=1pt]axis cs:401,1.2803) {1.2803};
\node[tagn, fill=lvlgreen] at ([xshift=1pt]axis cs:401,1.2761) {1.2761};
\node[tagn, fill=curtag] at ([xshift=1pt]axis cs:401,1.2753) {1.2753};
\node[tagn, fill=lvlgreen] at ([xshift=1pt]axis cs:401,1.2714) {1.2714};
\node[tagn, fill=lvlgreen] at ([xshift=1pt]axis cs:401,1.2662) {1.2662};
\end{axis}

% ---------------- MACD panel
\begin{axis}[panel, at={(2pt,-341.25pt)}, height=41pt, ymin=-0.00314, ymax=0.00167]
\pgfplotsinvokeforeach{23,47,71,95,119,143,167,191,215,239,263,287,311,335}{
  \draw[sepline] (axis cs:#1,-0.00314) -- (axis cs:#1,0.00167);
}
\addplot[ybar, bar width=1.5pt, bar shift=0pt, fill=histc, draw=none] table[x=i, y=m] {\bars};
\addplot[red, line width=0.75pt, mark=none] table[x=x, y=y] {\signal};
\end{axis}

% ---------------- Volume panel
\begin{axis}[panel, at={(2pt,-383.25pt)}, height=36.25pt, ymin=-47, ymax=4818]
\pgfplotsinvokeforeach{23,47,71,95,119,143,167,191,215,239,263,287,311,335}{
  \draw[sepline] (axis cs:#1,-47) -- (axis cs:#1,4818);
}
\addplot[ybar, bar width=1.5pt, bar shift=0pt, fill=bull, draw=none] table[x=i, y=v] {\bars};
\pgfplotsinvokeforeach{0,16,32,48,64,80,96,112,128,144,160,176,192,208,224,240,256,272,288,304}{
  \draw[frame, line width=0.5pt] (axis cs:#1,-47) -- ++(0,-2pt);
}
\node[lbl, yshift=-5pt] at (axis cs:-0.1,-47) {23 Jul 2024};
\node[lbl, yshift=-5pt] at (axis cs:16,-47) {23 Jul 17:00};
\node[lbl, yshift=-5pt] at (axis cs:32,-47) {24 Jul 09:00};
\node[lbl, yshift=-5pt] at (axis cs:48,-47) {25 Jul 01:00};
\node[lbl, yshift=-5pt] at (axis cs:64,-47) {25 Jul 17:00};
\node[lbl, yshift=-5pt] at (axis cs:80,-47) {26 Jul 09:00};
\node[lbl, yshift=-5pt] at (axis cs:96,-47) {29 Jul 01:00};
\node[lbl, yshift=-5pt] at (axis cs:112,-47) {29 Jul 17:00};
\node[lbl, yshift=-5pt] at (axis cs:128,-47) {30 Jul 09:00};
\node[lbl, yshift=-5pt] at (axis cs:144,-47) {31 Jul 01:00};
\node[lbl, yshift=-5pt] at (axis cs:160,-47) {31 Jul 17:00};
\node[lbl, yshift=-5pt] at (axis cs:176,-47) {1 Aug 09:00};
\node[lbl, yshift=-5pt] at (axis cs:192,-47) {2 Aug 01:00};
\node[lbl, yshift=-5pt] at (axis cs:208,-47) {2 Aug 17:00};
\node[lbl, yshift=-5pt] at (axis cs:224,-47) {5 Aug 09:00};
\node[lbl, yshift=-5pt] at (axis cs:240,-47) {6 Aug 01:00};
\node[lbl, yshift=-5pt] at (axis cs:256,-47) {6 Aug 17:00};
\node[lbl, yshift=-5pt] at (axis cs:272,-47) {7 Aug 09:00};
\node[lbl, yshift=-5pt] at (axis cs:288,-47) {8 Aug 01:00};
\node[lbl, yshift=-5pt] at (axis cs:304,-47) {8 Aug 17:00};
\end{axis}

% ---------------- texts and window decoration
\node[lbl] at (4.2pt,-6.35pt) {GBPUSD,H1\hspace{0.6em}1.2749 1.2755 1.2748 1.2753};
\node[lbl] at (4.9pt,-345.9pt) {MACD(12,26,9) 0.00129 0.00130};
\node[lbl] at (4.9pt,-387.9pt) {Volumes 274};
\node[lbl] at (806pt,-344.5pt) {0.00157};
\node[lbl] at (806pt,-356pt) {0.00};
\node[lbl] at (806pt,-379pt) {-0.00292};
\node[lbl] at (806pt,-386.5pt) {4498};
\node[lbl] at (806pt,-416.5pt) {0};
\fill[black!15] (641pt,-2.4pt) -- (645pt,-2.4pt) -- (643pt,-4.7pt) -- cycle;
\draw[black!55, line width=0.8pt] (0.4pt,0) -- (0.4pt,-431pt);
\draw[black!55, line width=0.8pt] (0,-0.6pt) -- (826pt,-0.6pt);
\draw[frame, line width=0.5pt] (824.7pt,0) -- (824.7pt,-431pt);
\fill[black!8] (0,-429.6pt) rectangle (826pt,-431pt);
\end{tikzpicture}
\end{document}
